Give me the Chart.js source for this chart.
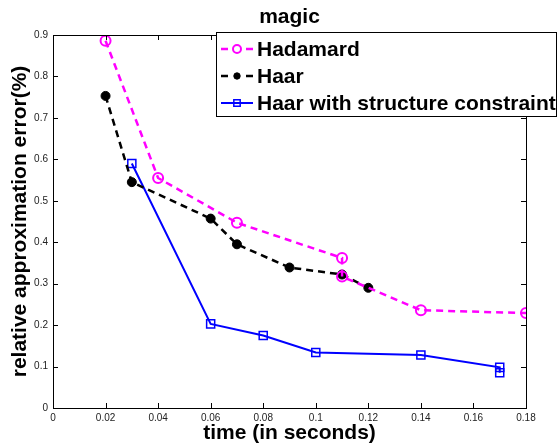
<!DOCTYPE html>
<html>
<head>
<meta charset="utf-8">
<script src="https://cdn.jsdelivr.net/npm/chart.js@4/dist/chart.umd.min.js"></script>
<style>
  html, body { margin: 0; padding: 0; background: #fff; }
  #chart { display: block; }
</style>
</head>
<body>
<canvas id="chart" width="560" height="446"></canvas>
<script>
const chartTitle = 'magic';
const xTitle = 'time (in seconds)';
const yTitle = 'relative approximation error(%)';

const seriesNames = ['Hadamard', 'Haar', 'Haar with structure constraint'];

const hadamardX = [0.02, 0.04, 0.07, 0.11, 0.11, 0.14, 0.18];
const hadamardY = [0.886, 0.555, 0.447, 0.362, 0.317, 0.236, 0.229];

const haarX = [0.02, 0.03, 0.06, 0.07, 0.09, 0.11, 0.12];
const haarY = [0.753, 0.545, 0.457, 0.395, 0.339, 0.322, 0.290];

const structX = [0.03, 0.06, 0.08, 0.10, 0.14, 0.17, 0.17];
const structY = [0.590, 0.203, 0.175, 0.134, 0.128, 0.098, 0.085];

const xTicks = [0, 0.02, 0.04, 0.06, 0.08, 0.1, 0.12, 0.14, 0.16, 0.18];
const yTicks = [0, 0.1, 0.2, 0.3, 0.4, 0.5, 0.6, 0.7, 0.8, 0.9];

const FONT = '"Liberation Sans", Arial, Helvetica, sans-serif';

function toPoints(xs, ys) {
    return xs.map((x, i) => ({ x: x, y: ys[i] }));
}

// matlab style box with inward ticks on all four sides
const boxPlugin = {
    id: 'boxPlugin',
    afterDatasetsDraw(chart) {
        const ctx = chart.ctx;
        const a = chart.chartArea;
        const xs = chart.scales.x;
        const ys = chart.scales.y;
        ctx.save();
        ctx.strokeStyle = '#000';
        ctx.lineWidth = 1;
        ctx.strokeRect(Math.round(a.left) + 0.5, Math.round(a.top) + 0.5,
            Math.round(a.right - a.left), Math.round(a.bottom - a.top));
        ctx.beginPath();
        xTicks.forEach(v => {
            const px = Math.round(xs.getPixelForValue(v)) + 0.5;
            ctx.moveTo(px, a.bottom); ctx.lineTo(px, a.bottom - 5);
            ctx.moveTo(px, a.top); ctx.lineTo(px, a.top + 5);
        });
        yTicks.forEach(v => {
            const py = Math.round(ys.getPixelForValue(v)) + 0.5;
            ctx.moveTo(a.left, py); ctx.lineTo(a.left + 5, py);
            ctx.moveTo(a.right, py); ctx.lineTo(a.right - 5, py);
        });
        ctx.stroke();
        ctx.restore();
    }
};

// legend box that overhangs the plot like the matlab one
const legendMarkers = [4, 3.2, 4.5];
const boxLegend = {
    id: 'boxLegend',
    afterDraw(chart) {
        const ctx = chart.ctx;
        const left = 216, top = 32, width = 341, height = 85;
        const rows = [49, 76, 103];
        ctx.save();
        ctx.fillStyle = '#fff';
        ctx.fillRect(left, top, width, height);
        ctx.strokeStyle = '#000';
        ctx.lineWidth = 1;
        ctx.strokeRect(left + 0.5, top + 0.5, width - 1, height - 1);
        chart.data.datasets.forEach((ds, i) => {
            const y = rows[i];
            ctx.strokeStyle = ds.borderColor;
            ctx.lineWidth = ds.borderWidth;
            ctx.beginPath();
            if (ds.borderDash) {
                ctx.moveTo(221, y); ctx.lineTo(228, y);
                ctx.moveTo(246, y); ctx.lineTo(253, y);
            } else {
                ctx.moveTo(221, y); ctx.lineTo(253, y);
            }
            ctx.stroke();
            ctx.fillStyle = ds.pointBackgroundColor;
            ctx.strokeStyle = ds.pointBorderColor;
            ctx.lineWidth = ds.pointBorderWidth;
            Chart.helpers.drawPoint(ctx, {
                pointStyle: ds.pointStyle,
                radius: legendMarkers[i],
                borderWidth: ds.pointBorderWidth,
                rotation: 0
            }, 237, y);
            ctx.fillStyle = '#000';
            ctx.font = 'bold 21px ' + FONT;
            ctx.textBaseline = 'middle';
            ctx.textAlign = 'left';
            ctx.fillText(ds.label, 257, y + 1);
        });
        ctx.restore();
    }
};

const ctx = document.getElementById('chart').getContext('2d');
new Chart(ctx, {
    type: 'scatter',
    data: {
        datasets: [
            {
                label: seriesNames[0],
                data: toPoints(hadamardX, hadamardY),
                showLine: true,
                borderColor: '#ff00ff',
                backgroundColor: '#ffffff',
                borderWidth: 2.5,
                borderDash: [7, 5],
                pointStyle: 'circle',
                pointRadius: 5,
                pointBorderWidth: 2,
                pointBorderColor: '#ff00ff',
                pointBackgroundColor: 'rgba(255,255,255,0)'
            },
            {
                label: seriesNames[1],
                data: toPoints(haarX, haarY),
                showLine: true,
                borderColor: '#000000',
                backgroundColor: '#000000',
                borderWidth: 2.5,
                borderDash: [7, 5],
                pointStyle: 'circle',
                pointRadius: 4.5,
                pointBorderWidth: 1,
                pointBorderColor: '#000000',
                pointBackgroundColor: '#000000'
            },
            {
                label: seriesNames[2],
                data: toPoints(structX, structY),
                showLine: true,
                borderColor: '#0000ff',
                backgroundColor: '#ffffff',
                borderWidth: 2,
                pointStyle: 'rect',
                pointRadius: 5.7,
                pointBorderWidth: 1.5,
                pointBorderColor: '#0000ff',
                pointBackgroundColor: 'rgba(255,255,255,0)'
            }
        ]
    },
    options: {
        responsive: false,
        animation: false,
        layout: { padding: { left: 0, right: 34, top: 0, bottom: 0 } },
        plugins: {
            legend: { display: false },
            tooltip: { enabled: false },
            title: {
                display: true,
                text: chartTitle,
                fullSize: false,
                color: '#000',
                font: { family: FONT, size: 21, weight: 'bold', lineHeight: 1.2 },
                padding: { top: 4.4, bottom: 5.4 }
            }
        },
        scales: {
            x: {
                type: 'linear',
                min: 0,
                max: 0.18,
                afterBuildTicks: s => { s.ticks = xTicks.map(v => ({ value: v })); },
                afterFit: s => { s.height = 38; },
                grid: { display: false, drawTicks: false },
                border: { display: false },
                ticks: {
                    color: '#222',
                    font: { family: FONT, size: 10 },
                    padding: 4,
                    maxRotation: 0,
                    callback: v => String(v)
                },
                title: {
                    display: true,
                    text: xTitle,
                    color: '#000',
                    font: { family: FONT, size: 21, weight: 'bold', lineHeight: 1.2 },
                    padding: { top: 0, bottom: 0 }
                }
            },
            y: {
                type: 'linear',
                min: 0,
                max: 0.9,
                afterBuildTicks: s => { s.ticks = yTicks.map(v => ({ value: v })); },
                afterFit: s => { s.width = 53; },
                grid: { display: false, drawTicks: false },
                border: { display: false },
                ticks: {
                    color: '#222',
                    font: { family: FONT, size: 10 },
                    padding: 5,
                    callback: v => String(v)
                },
                title: {
                    display: true,
                    text: yTitle,
                    color: '#000',
                    font: { family: FONT, size: 21, weight: 'bold', lineHeight: 1.2 },
                    padding: { top: 8, bottom: 0 }
                }
            }
        }
    },
    plugins: [boxPlugin, boxLegend]
});
</script>
</body>
</html>
